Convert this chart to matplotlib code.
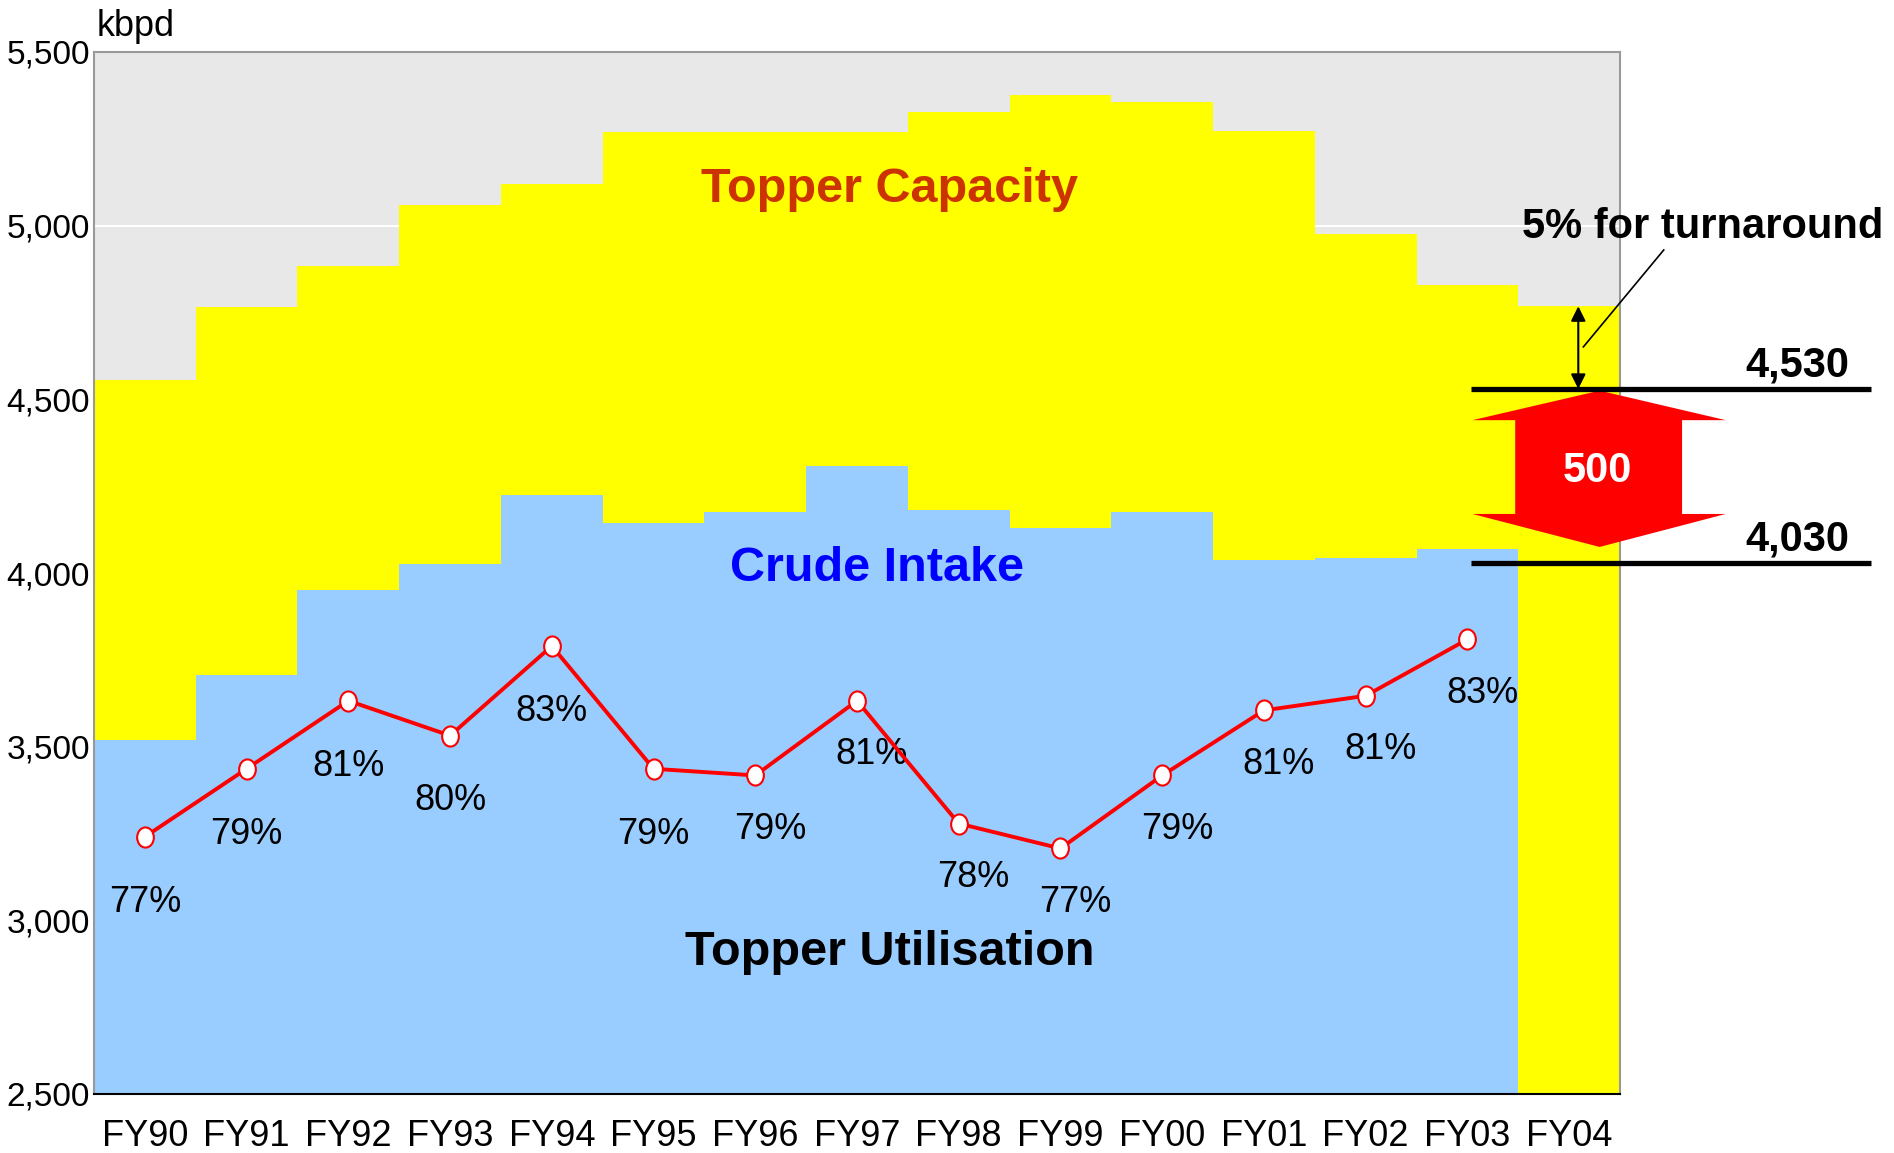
import numpy as np
import matplotlib
matplotlib.use("Agg")
import matplotlib.pyplot as plt
import matplotlib.path as mpath
from matplotlib.patches import Polygon

plt.rcParams['font.family'] = ['Liberation Sans', 'DejaVu Sans']

# ---- data ----
years = ["FY90", "FY91", "FY92", "FY93", "FY94", "FY95", "FY96", "FY97",
         "FY98", "FY99", "FY00", "FY01", "FY02", "FY03", "FY04"]
capacity = [4555, 4767, 4885, 5059, 5121, 5270, 5270, 5270,
            5326, 5375, 5355, 5273, 4975, 4830, 4768]
crude_intake = [3519, 3706, 3950, 4026, 4224, 4145, 4175, 4308,
                4182, 4130, 4175, 4036, 4044, 4068]
utilisation = [77.15, 79.2, 81.25, 80.2, 82.9, 79.2, 79.0, 81.25,
               77.55, 76.8, 79.0, 80.96, 81.4, 83.1]
y_ticks = [2500, 3000, 3500, 4000, 4500, 5000, 5500]
target_hi = 4530
target_lo = 4030
gap_label = "500"

# ---- figure ----
W, H = 1894, 1153
fig = plt.figure(figsize=(W / 100, H / 100), dpi=100)
ax = fig.add_axes([94 / W, 1 - 1094 / H, (1620 - 94) / W, (1094 - 52) / H])
ax.set_facecolor('#E8E8E8')

x = np.arange(len(years))
ax.bar(x, [c - 2500 for c in capacity], bottom=2500, width=1.0,
       color='#FFFF00', zorder=2, linewidth=0)
xi = np.arange(len(crude_intake))
ax.bar(xi, [c - 2500 for c in crude_intake], bottom=2500, width=1.0,
       color='#99CCFF', zorder=3, linewidth=0)

ax.set_xlim(-0.5, len(years) - 0.5)
ax.set_ylim(2500, 5500)
ax.set_yticks(y_ticks)
ax.set_yticklabels([f"{v:,}" for v in y_ticks], fontsize=24)
ax.yaxis.grid(True, color='white', lw=1.5, zorder=1)
ax.set_axisbelow(True)
ax.tick_params(axis='y', length=0, pad=3)

ax.set_xticks(x)
ax.set_xticklabels(years, fontsize=26)
ax.set_xticks(np.arange(0.5, len(years) - 1, 1.0), minor=True)
ax.tick_params(axis='x', which='major', length=0, pad=18)
ax.tick_params(axis='x', which='minor', direction='in', length=8.5,
               width=1, color='black')

for s in ['left', 'top', 'right']:
    ax.spines[s].set_color('#999999')
    ax.spines[s].set_linewidth(1.5)
ax.spines['bottom'].set_color('black')
ax.spines['bottom'].set_linewidth(1.5)
for s in ax.spines.values():
    s.set_zorder(6)

# ---- utilisation line on hidden twin axis ----
ax2 = ax.twinx()
ax2.set_ylim(69.4, 100.8)
ax2.axis('off')
circ = mpath.Path.unit_circle()
ell = mpath.Path(circ.vertices * np.array([0.83, 1.0]), circ.codes)
ux = np.arange(len(utilisation))
ax2.plot(ux, utilisation, color='#FF0000', lw=2.8, zorder=5,
         marker=ell, markersize=14.5, markerfacecolor='white',
         markeredgecolor='#FF0000', markeredgewidth=1.5)
for i, v in enumerate(utilisation):
    if i < 6:
        off = (0, -47)
    else:
        off = (10.5, -39)
    ax2.annotate(f"{round(v)}%", (i, v), xytext=off, textcoords='offset points',
                 ha='center', va='center', fontsize=26, color='black')

# ---- region labels ----
ax.text(7.32, 5105, "Topper Capacity", ha='center', va='center',
        fontsize=35, fontweight='bold', color='#CC3300', zorder=7)
ax.text(7.2, 4013, "Crude Intake", ha='center', va='center',
        fontsize=35, fontweight='bold', color='#0000FF', zorder=7)
ax.text(7.32, 2907, "Topper Utilisation", ha='center', va='center',
        fontsize=35, fontweight='bold', color='black', zorder=7)

fig.text(97 / W, 1 - 27 / H, "kbpd", ha='left', va='center', fontsize=26)

# ---- right side annotation ----
for yv, lab in [(target_hi, f"{target_hi:,}"), (target_lo, f"{target_lo:,}")]:
    ax.plot([13.04, 16.97], [yv, yv], color='black', lw=3.8,
            clip_on=False, zorder=8, solid_capstyle='butt')
    ax.text(16.75, yv + 35, lab, ha='right', va='baseline', fontsize=30,
            fontweight='bold', color='black', clip_on=False, zorder=8)

hi, lo = target_hi, target_lo
arrow = Polygon([
    (14.30, hi - 5), (15.54, hi - 90), (15.11, hi - 90), (15.11, lo + 140),
    (15.54, lo + 140), (14.30, lo + 45), (13.05, lo + 140), (13.47, lo + 140),
    (13.47, hi - 90), (13.05, hi - 90)],
    closed=True, facecolor='#FF0000', edgecolor='none', clip_on=False, zorder=7)
ax.add_patch(arrow)
ax.text(14.28, (hi + lo) / 2 + 15, gap_label, ha='center', va='center',
        fontsize=30, fontweight='bold', color='white', zorder=9, clip_on=False)

ax.annotate("", xy=(14.09, capacity[-1]), xytext=(14.09, hi),
            arrowprops=dict(arrowstyle='<|-|>', color='black', lw=1.5,
                            mutation_scale=22, shrinkA=0, shrinkB=0),
            zorder=9, annotation_clip=False)
ax.plot([14.93, 14.14], [4930, 4651], color='black', lw=1.2,
        clip_on=False, zorder=9)
ax.text(15.31, 4996, "5% for turnaround", ha='center', va='center',
        fontsize=30, fontweight='bold', color='black', clip_on=False, zorder=9)

fig.savefig("out.png", dpi=100)
